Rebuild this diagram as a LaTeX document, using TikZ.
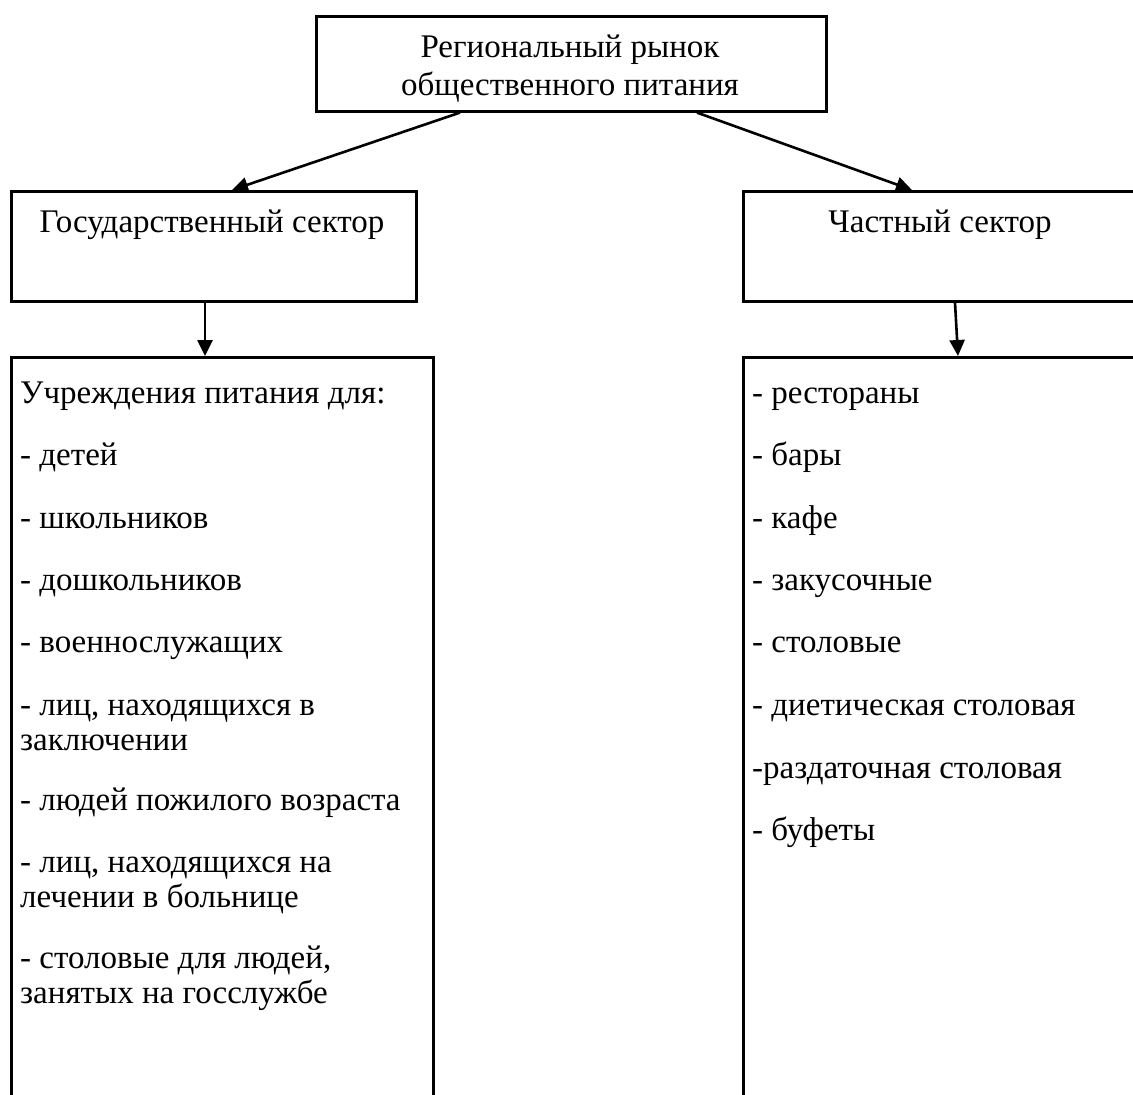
\documentclass[tikz,border=0pt]{standalone}
\usepackage{fontspec}
\setmainfont{Liberation Serif}
\usetikzlibrary{arrows.meta,calc}
\begin{document}
\begin{tikzpicture}[x=1pt,y=-1pt,
  box/.style={draw, line width=2.6pt, rectangle, anchor=north west, inner sep=0pt},
  txt/.style={anchor=base west, inner sep=0pt, font=\fontsize{33}{38}\selectfont},
  ctxt/.style={anchor=base, inner sep=0pt, font=\fontsize{33}{38}\selectfont},
  arr/.style={line width=2.6pt, -{Triangle[length=16pt,width=15pt]}}]
\clip (0,0) rectangle (1133,1095);
\fill[white] (0,0) rectangle (1133,1095);
% boxes
\node[box, minimum width=510pt, minimum height=95pt] (top) at (315,15) {};
\node[box, minimum width=405pt, minimum height=110pt] (gov) at (10,190) {};
\node[box, minimum width=420pt, minimum height=110pt] (priv) at (742,190) {};
\node[box, minimum width=422pt, minimum height=800pt] (govlist) at (10,356) {};
\node[box, minimum width=420pt, minimum height=800pt] (privlist) at (742,356) {};
% titles
\node[ctxt] (t1) at (570,57) {Региональный рынок};
\node[ctxt] (t2) at (570,95) {общественного питания};
\node[ctxt] (g1) at (212,232) {Государственный сектор};
\node[ctxt] (p1) at (940,232) {Частный сектор};
% left list
\node[txt] (l1) at (20,403) {Учреждения питания для:};
\node[txt] (l2) at (20,465) {- детей};
\node[txt] (l3) at (20,528) {- школьников};
\node[txt] (l4) at (20,590) {- дошкольников};
\node[txt] (l5) at (20,652) {- военнослужащих};
\node[txt] (l6) at (20,715) {- лиц, находящихся в};
\node[txt] (l7) at (20,750) {заключении};
\node[txt] (l8) at (20,810) {- людей пожилого возраста};
\node[txt] (l9) at (20,872) {- лиц, находящихся на};
\node[txt] (l10) at (20,907) {лечении в больнице};
\node[txt] (l11) at (20,968) {- столовые для людей,};
\node[txt] (l12) at (20,1003) {занятых на госслужбе};
% right list
\node[txt] (r1) at (752,403) {- рестораны};
\node[txt] (r2) at (752,465) {- бары};
\node[txt] (r3) at (752,528) {- кафе};
\node[txt] (r4) at (752,590) {- закусочные};
\node[txt] (r5) at (752,652) {- столовые};
\node[txt] (r6) at (752,715) {- диетическая столовая};
\node[txt] (r7) at (752,778) {-раздаточная столовая};
\node[txt] (r8) at (752,840) {- буфеты};
% connector ends
\coordinate (a1s) at ($(top.south west)+(145,0)$);
\coordinate (a1e) at ($(gov.north west)+(222,0)$);
\coordinate (a2s) at ($(top.south west)+(382,0)$);
\coordinate (a2e) at ($(priv.north west)+(170,0)$);
\coordinate (a3s) at ($(gov.south west)+(195,0)$);
\coordinate (a3e) at ($(govlist.north west)+(195,0)$);
\coordinate (a4s) at ($(priv.south west)+(213,0)$);
\coordinate (a4e) at ($(privlist.north west)+(216,0)$);
% arrows
\draw[arr] (a1s) -- (a1e);
\draw[arr] (a2s) -- (a2e);
\draw[arr] (a3s) -- (a3e);
\draw[arr] (a4s) -- (a4e);
\end{tikzpicture}
\end{document}
